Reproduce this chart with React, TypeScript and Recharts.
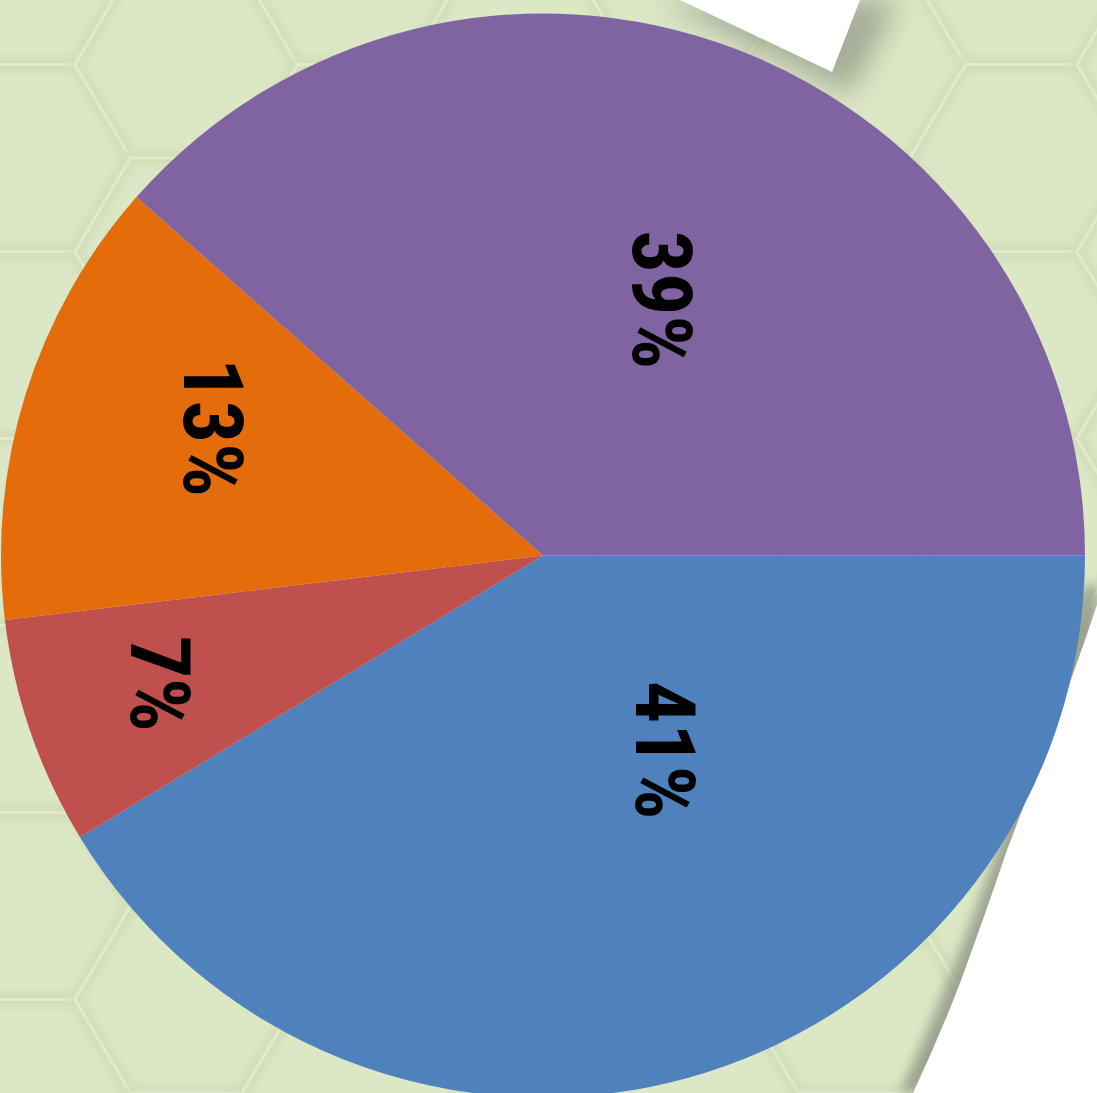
import React from "react";
import { PieChart, Pie, Cell } from "recharts";

// shares of the four slices, clockwise from 3 o'clock
const sliceNames = ["A", "B", "C", "D"];
const sliceValues = [41.3, 6.8, 13.4, 38.5];
const sliceLabels = ["41%", "7%", "13%", "39%"];
const sliceColors = ["#4F81BD", "#C0504D", "#E46C0A", "#8064A2"];

// label placement: fraction of radius and a small turn (deg, clockwise) off mid angle
const labelRadius = [0.423, 0.746, 0.653, 0.52];
const labelTurn = [-16.2, 0.6, 3.9, 4.2];

const W = 1097;
const H = 1093;
const RAD = Math.PI / 180;

const data = sliceNames.map((name, i) => ({
  name,
  value: sliceValues[i],
  label: sliceLabels[i],
}));

function hexPath(cx: number, cy: number, s: number, h: number) {
  const pts = [
    [cx - s, cy],
    [cx - s / 2, cy - h],
    [cx + s / 2, cy - h],
    [cx + s, cy],
    [cx + s / 2, cy + h],
    [cx - s / 2, cy + h],
  ];
  return "M" + pts.map((p) => p.join(",")).join("L") + "Z";
}

function Backdrop() {
  const s = 111;
  const h = 93.5;
  const cells: string[] = [];
  for (let col = -1; col < 9; col++) {
    const x = 19 + col * 167;
    const off = col % 2 === 0 ? 0 : h;
    for (let row = -1; row < 7; row++) {
      cells.push(hexPath(x, 158 + row * 187 + off, s, h));
    }
  }
  return (
    <svg width={W} height={H} style={{ position: "absolute", left: 0, top: 0 }}>
      <defs>
        <filter id="blur14" x="-30%" y="-30%" width="160%" height="160%">
          <feGaussianBlur stdDeviation="14" />
        </filter>
        <filter id="blur6" x="-20%" y="-20%" width="140%" height="140%">
          <feGaussianBlur stdDeviation="6" />
        </filter>
        <filter id="blur4" x="-20%" y="-20%" width="140%" height="140%">
          <feGaussianBlur stdDeviation="4" />
        </filter>
      </defs>
      <rect width={W} height={H} fill="#DCE7C5" />
      {cells.map((d, i) => (
        <g key={i}>
          <path d={d} fill="none" stroke="#D3DEBB" strokeWidth={12} filter="url(#blur4)" />
          <path d={d} fill="none" stroke="#E0EACC" strokeWidth={3} />
        </g>
      ))}
      {/* paper sheet at the top */}
      <path d="M660,0 L900,0 L850,95 Z" fill="#9CA290" filter="url(#blur14)" opacity={0.85} />
      <path d="M680,0 L860,0 L832,72 Z" fill="#FFFFFF" />
      {/* curled page on the right */}
      <path
        d="M1085,585 L1060,650 Q1030,740 1000,840 Q960,960 900,1093 L1097,1093 L1097,585 Z"
        fill="#8E9484"
        filter="url(#blur6)"
        opacity={0.8}
      />
      <path
        d="M1097,605 Q1075,670 1050,737 Q1028,795 1007,850 Q985,915 960,983 Q938,1040 913,1093 L1097,1093 Z"
        fill="#FFFFFF"
      />
    </svg>
  );
}

function renderLabel(props: any) {
  const { cx, cy, midAngle, outerRadius, index } = props;
  const r = outerRadius * labelRadius[index];
  const theta = (-midAngle + labelTurn[index]) * RAD;
  const x = cx + r * Math.cos(theta);
  const y = cy + r * Math.sin(theta);
  return (
    <text
      x={x}
      y={y}
      transform={`rotate(90 ${x} ${y})`}
      textAnchor="middle"
      dominantBaseline="central"
      fill="#000000"
      fontSize={84}
      fontWeight="bold"
      fontFamily="'Liberation Sans Narrow', 'Roboto Condensed', Roboto, sans-serif"
    >
      {data[index].label}
    </text>
  );
}

export default function App() {
  return (
    <div
      style={{
        position: "absolute",
        left: 0,
        top: 0,
        width: W,
        height: H,
        overflow: "hidden",
      }}
    >
      <Backdrop />
      <div style={{ position: "absolute", left: 0, top: 0 }}>
        <PieChart width={W} height={H} margin={{ top: 0, right: 0, bottom: 0, left: 0 }}>
          <Pie
            data={data}
            dataKey="value"
            nameKey="name"
            cx={543}
            cy={555.5}
            outerRadius={542}
            startAngle={0}
            endAngle={-360}
            stroke="none"
            labelLine={false}
            label={renderLabel}
            isAnimationActive={false}
          >
            {data.map((d, i) => (
              <Cell key={d.name} fill={sliceColors[i]} />
            ))}
          </Pie>
        </PieChart>
      </div>
    </div>
  );
}
